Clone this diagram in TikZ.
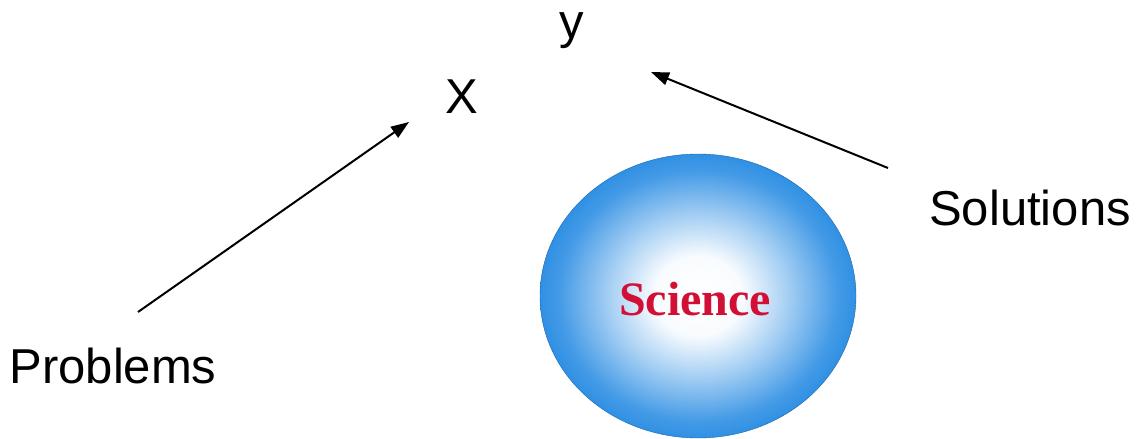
\documentclass[tikz,border=0pt]{standalone}
\usepackage{fontspec}
\setmainfont{Liberation Sans}
\newfontfamily\serifbold{Liberation Serif}
\usetikzlibrary{arrows.meta,positioning}
\definecolor{ballBlue}{HTML}{2389E2}
\definecolor{sciRed}{HTML}{D20F35}
\pgfdeclareradialshading{sciball}{\pgfpoint{0bp}{0bp}}{%
  color(0bp)=(white); color(7bp)=(white!97!ballBlue); color(14bp)=(ballBlue!40);
  color(22bp)=(ballBlue!85); color(27bp)=(ballBlue); color(50bp)=(ballBlue)}

\begin{document}
\begin{tikzpicture}[x=1pt,y=-1pt,
  lbl/.style={anchor=base,inner sep=0pt,font=\fontsize{49}{55}\selectfont},
  sci/.style={anchor=base,inner sep=0pt,text=sciRed,font=\fontsize{48}{54}\selectfont\serifbold\bfseries},
  arr/.style={line width=2pt,-{Triangle[length=18pt,width=13pt]}}]
  \useasboundingbox (0,0) rectangle (1136,439);
  % sphere
  \shade[shading=sciball] (698,296) ellipse [x radius=158,y radius=142];
  \draw[ballBlue!75!black,line width=0.4pt] (698,296) ellipse [x radius=158,y radius=142];
  \node[sci] (science) at (695,315) {Science};
  % labels
  \node[lbl] (xlab) at (462,113) {X};
  \node[lbl] (ylab) at (572,38) {y};
  \node[lbl] (sol) at (1030,225) {Solutions};
  \node[lbl] (prob) at (113,383) {Problems};
  % arrows
  \coordinate (pfrom) at (138,312);
  \coordinate (pto) at (409,122);
  \coordinate (sfrom) at (888,168);
  \coordinate (sto) at (651,72);
  \draw[arr] (pfrom) -- (pto);
  \draw[arr] (sfrom) -- (sto);
\end{tikzpicture}
\end{document}
